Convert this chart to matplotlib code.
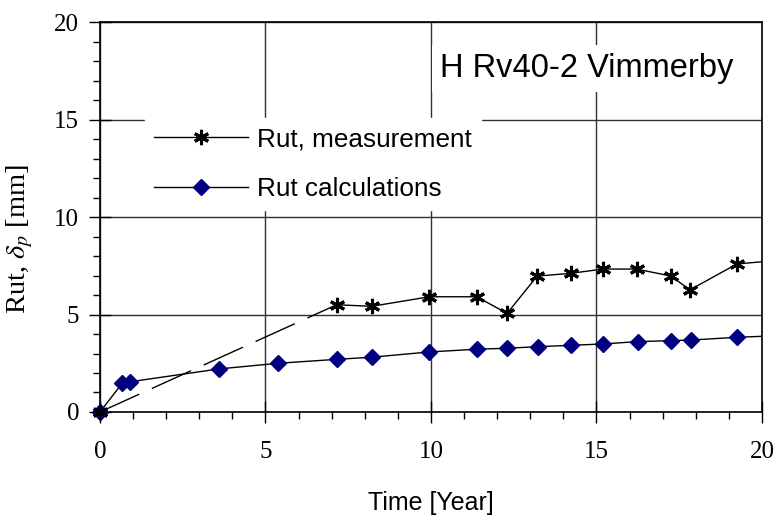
import matplotlib.pyplot as plt
from matplotlib.ticker import MultipleLocator

# measured rut depth (asterisks); first segment is dashed, no data between
meas_t = [0, 7.15, 8.21, 9.95, 11.38, 12.30, 13.21, 14.22, 15.19, 16.21, 17.26, 17.82, 19.24, 21.0]
meas_r = [0, 5.50, 5.42, 5.91, 5.91, 5.06, 6.97, 7.11, 7.33, 7.33, 6.97, 6.26, 7.59, 7.86]

# calculated rut depth (diamonds)
calc_t = [0, 0.67, 0.91, 3.60, 5.39, 7.15, 8.21, 9.95, 11.40, 12.30, 13.22, 14.24,
          15.20, 16.24, 17.26, 17.85, 19.24, 21.0]
calc_r = [0, 1.47, 1.55, 2.21, 2.50, 2.70, 2.81, 3.08, 3.22, 3.27, 3.35, 3.42,
          3.49, 3.61, 3.66, 3.69, 3.83, 3.95]

xticks = [0, 5, 10, 15, 20]
yticks = [0, 5, 10, 15, 20]

plt.rcParams['mathtext.fontset'] = 'stix'
serif = 'Liberation Serif'
sans = 'Liberation Sans'

fig = plt.figure(figsize=(7.78, 5.17), dpi=100)
ax = fig.add_axes([0.1285, 0.2031, 0.8509, 0.7543])

ax.set_xlim(0, 20)
ax.set_ylim(0, 20)
ax.set_xticks(xticks)
ax.set_yticks(yticks)
ax.xaxis.set_minor_locator(MultipleLocator(1))
ax.yaxis.set_minor_locator(MultipleLocator(1))
ax.grid(True, which='major', color='#303030', lw=1.0)
ax.set_axisbelow(True)
for s in ax.spines.values():
    s.set_color('black')
    s.set_linewidth(1.2)

ax.tick_params(which='major', direction='inout', length=16, width=1, colors='black',
               labelsize=18, labelfontfamily=serif)
ax.tick_params(which='minor', direction='out', length=5, width=1)
ax.tick_params(axis='x', which='major', pad=13)
ax.tick_params(axis='y', which='major', pad=7)

# dashed part of the measurement curve
ax.plot(meas_t[:2], meas_r[:2], color='black', lw=1, dashes=(31, 10), zorder=3)
ax.plot(meas_t[1:], meas_r[1:], color='black', lw=1, zorder=3)
ax.plot(calc_t, calc_r, color='black', lw=1, zorder=3)

# markers only for points inside the plotted range, not clipped at the axes edge
mt = [t for t in meas_t if t <= 20]
mr = [r for t, r in zip(meas_t, meas_r) if t <= 20]
ct = [t for t in calc_t if t <= 20]
cr = [r for t, r in zip(calc_t, calc_r) if t <= 20]
ax.plot(ct, cr, ls='none', marker='D', ms=8.5, mfc='#000080', mec='#000080',
        zorder=4, clip_on=False)
ax.plot(mt, mr, ls='none', marker=(6, 2, 0), ms=11, mew=2.2,
        color='black', zorder=5, clip_on=False)

l1, = ax.plot([], [], color='black', lw=1, marker=(6, 2, 0), ms=11, mew=2.2)
l2, = ax.plot([], [], color='black', lw=1, marker='D', ms=8.5,
              mfc='#000080', mec='#000080')

leg = ax.legend([l1, l2], ['Rut, measurement', 'Rut calculations'],
                loc='upper left', bbox_to_anchor=(0.0685, 0.754),
                prop={'family': sans, 'size': 18.8}, frameon=True,
                fancybox=False, framealpha=1, edgecolor='white',
                handlelength=3.6, handletextpad=0.33, labelspacing=1.0,
                borderpad=0.35, borderaxespad=0)

ax.text(0.514, 0.859, 'H Rv40-2 Vimmerby', transform=ax.transAxes,
        family=sans, fontsize=23.5, va='baseline', ha='left', zorder=6,
        bbox=dict(facecolor='white', edgecolor='none', pad=6))

ax.set_xlabel('Time [Year]', family=sans, fontsize=18)
ax.xaxis.set_label_coords(0.5, -0.202)
ax.set_ylabel(r'Rut, $\delta_p$ [mm]', family=serif, fontsize=20.5)
ax.yaxis.set_label_coords(-0.098, 0.444)

fig.savefig('out.png', dpi=100)
